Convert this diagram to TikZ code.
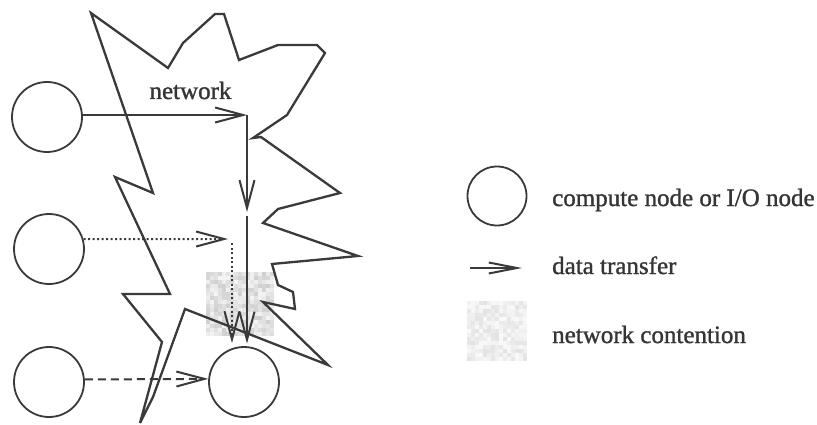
\documentclass[tikz,border=0pt]{standalone}
\usepackage{fontspec}
\setmainfont{Liberation Serif}
\usetikzlibrary{arrows.meta}

\definecolor{ink}{HTML}{3A3A3A}
\definecolor{txt}{HTML}{353535}

\tikzset{
  host/.style={circle, draw=ink, line width=1.8pt, minimum size=70pt, inner sep=0pt},
  legendhost/.style={host, minimum size=59pt},
  barb/.style={-{Straight Barb[length=28pt,width=15pt]}},
  flow/.style={draw=ink, line width=2pt, barb},
  dotflow/.style={flow, line width=2pt, dash pattern=on 2pt off 2.5pt},
  dashflow/.style={flow, line width=2pt, dash pattern=on 8pt off 5pt},
  cloud/.style={draw=ink, line width=2.3pt, line join=miter},
  legtext/.style={text=txt, font=\fontsize{25}{30}\selectfont\addfontfeature{FakeBold=1.2}, inner sep=0pt},
}

\begin{document}
\begin{tikzpicture}[x=1pt, y=-1pt]
  \fill[white] (0,0) rectangle (817,425);
  \useasboundingbox (0,0) rectangle (817,425);

  % contention patches: speckled light grey squares
  \pgfmathsetseed{4}
  \foreach \i in {0,...,16}{
    \foreach \j in {0,...,15}{
      \pgfmathsetmacro{\g}{4+15*rnd}
      \fill[black!\g] (206+4*\i,272+4*\j) rectangle ++(4,4);
    }
  }
  \foreach \i in {0,...,14}{
    \foreach \j in {0,...,14}{
      \pgfmathsetmacro{\g}{2+9*rnd}
      \fill[black!\g] (467+4*\i,301+4*\j) rectangle ++(4,4);
    }
  }

  % the network cloud
  \draw[cloud] (91,13) -- (168,68) -- (183,43) -- (215,14) -- (224,14)
    -- (239,60) -- (278,45) -- (317,45) -- (325,53) -- (287,115)
    -- (253,138) -- (261,137) -- (340,193) -- (278,209) -- (263,223)
    -- (358,256) -- (272,264) -- (278,285) -- (293,292) -- (295,309)
    -- (263,302) -- (328,365) -- (185,309) -- (153,397) -- (140,423)
    -- (162,342) -- (123,294) -- (170,294) -- (115,177) -- (153,193)
    -- cycle;

  % compute / I/O nodes
  \node[host] (n1) at (47,117) {};
  \node[host] (n2) at (49,249) {};
  \node[host] (n3) at (49,382) {};
  \node[host] (n4) at (244,382) {};

  \node[legtext, anchor=base] (net) at (190.5,99) {network};

  % routing points inside the network
  \coordinate (j1) at (247,115);
  \coordinate (j2) at (247,212);
  \coordinate (j3) at (247,216);
  \coordinate (d1) at (228,239);
  \coordinate (d2) at (232,243);

  % data transfers
  \draw[flow] (n1.east |- j1) -- (j1);
  \draw[flow] (j1) -- (j2);
  \draw[flow, shorten >=2.5pt] (j3) -- (j3 |- n4.north);
  \draw[dotflow] (n2.16.6) -- (d1);
  \draw[dotflow, shorten >=3pt] (d2) -- (d2 |- n4.north);
  \draw[dashflow] (n3.4.8) -- (n4.175.2);

  % legend
  \node[legendhost] (lnode) at (497,196) {};
  \node[legtext, anchor=base west] (lt1) at (552,206) {compute node or I/O node};
  \coordinate (la) at (470,268);
  \coordinate (lb) at (522,268);
  \draw[flow, -{Straight Barb[length=28pt,width=11pt]}] (la) -- (lb);
  \node[legtext, anchor=base west] (lt2) at (552,274) {data transfer};
  \node[legtext, anchor=base west] (lt3) at (552,343) {network contention};
\end{tikzpicture}
\end{document}
